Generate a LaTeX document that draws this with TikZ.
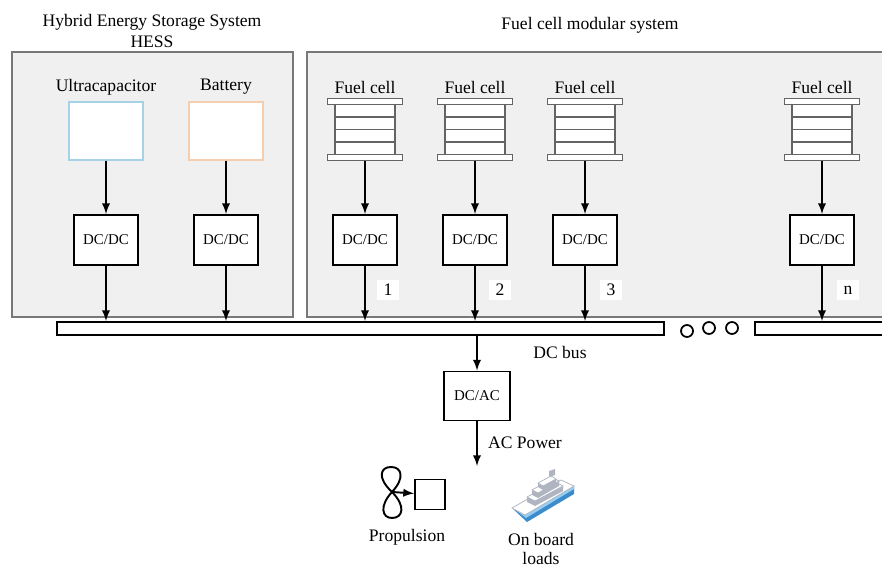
\documentclass[tikz,border=0pt]{standalone}
\usepackage{fontspec}
\setmainfont{Liberation Serif}
\usetikzlibrary{arrows}

\definecolor{panelfill}{RGB}{240,240,240}
\definecolor{panelline}{RGB}{120,120,120}
\definecolor{ucapline}{RGB}{165,210,230}
\definecolor{battline}{RGB}{245,205,175}
\definecolor{stackline}{RGB}{100,100,100}
\definecolor{hullblue}{RGB}{60,140,205}
\definecolor{hulllight}{RGB}{150,205,240}
\definecolor{deckgray}{RGB}{175,180,192}

\tikzset{
plate/.style={shape=rectangle, draw=stackline, fill=white, line width=0.7pt,
    minimum width=1.5cm, minimum height=0.12cm, inner sep=0pt},
cellbody/.style={shape=rectangle, draw=stackline, fill=white, line width=0.7pt,
    minimum width=1.2cm, minimum height=1.02cm, inner sep=0pt}
}

% fuel cell stack: #1 name, #2 x centre
\newcommand{\fcstack}[2]{%
  \node[cellbody] (#1) at (#2,129.5) {};
  \draw[stackline, line width=0.7pt] (#2-30,117) -- (#2+30,117);
  \draw[stackline, line width=0.7pt] (#2-30,129.5) -- (#2+30,129.5);
  \draw[stackline, line width=0.7pt] (#2-30,142) -- (#2+30,142);
  \node[plate] (#1_top) at (#2,101.5) {};
  \node[plate] (#1_bot) at (#2,157.5) {};
  \node[font=\fontsize{10}{12}\selectfont] (#1_lbl) at (#2,87) {Fuel cell};
}

\begin{document}
\begin{tikzpicture}[x=0.02cm, y=-0.02cm]
		\tikzset{conv/.style = {shape=rectangle, draw, line width=1.1pt, fill=white,
		    minimum width=1.28cm, minimum height=1cm, inner sep=0pt,
		    font=\fontsize{8.5}{10}\selectfont}}
		\tikzset{store/.style = {shape=rectangle, draw, line width=0.6pt, fill=white,
		    minimum width=1.48cm, minimum height=1.16cm, inner sep=0pt}}
		\tikzset{flow/.style = {-latex, line width=1.1pt}}
		\tikzset{txt/.style = {font=\fontsize{10}{12}\selectfont, inner sep=1pt}}
		\tikzset{tag/.style = {txt, fill=white, minimum width=0.44cm, minimum height=0.4cm}}
		\tikzset{bus/.style = {shape=rectangle, draw, line width=1.1pt, fill=white,
		    minimum height=0.26cm, inner sep=0pt}}
		\tikzset{dot/.style = {shape=circle, draw, line width=1pt, minimum size=0.24cm, inner sep=0pt}}
		\tikzset{deck/.style = {fill=white, draw=deckgray, line width=0.4pt}}

		\clip (0,0) rectangle (882,567);

		% panels
		\draw[panelline, fill=panelfill, line width=0.8pt] (12,52) rectangle (293,317);
		\draw[panelline, fill=panelfill, line width=0.8pt] (307,52) rectangle (900,317);
		\node[txt, align=center] (T_hess) at (152,31) {Hybrid Energy Storage System\\HESS};
		\node[txt] (T_fc) at (590,25) {Fuel cell modular system};

		% storage side
		\node[txt] (L_u) at (106,87) {Ultracapacitor};
		\node[txt] (L_b) at (226,87) {Battery};
		\node[store, draw=ucapline] (U) at (106,131) {};
		\node[store, draw=battline] (B) at (226,131) {};

		% fuel cells
		\fcstack{FC_1}{365}
		\fcstack{FC_2}{475}
		\fcstack{FC_3}{585}
		\fcstack{FC_n}{822}

		% converters
		\node[conv] (D_1) at (106,240) {DC/DC};
		\node[conv] (D_2) at (226,240) {DC/DC};
		\node[conv] (D_3) at (365,240) {DC/DC};
		\node[conv] (D_4) at (475,240) {DC/DC};
		\node[conv] (D_5) at (585,240) {DC/DC};
		\node[conv] (D_6) at (822,240) {DC/DC};

		\node[tag] (N_1) at (388,290) {1};
		\node[tag] (N_2) at (500,290) {2};
		\node[tag] (N_3) at (611,290) {3};
		\node[tag] (N_n) at (848,290) {n};

		% dc bus
		\node[bus, minimum width=12.14cm] (bus) at (360.5,328.5) {};
		\node[bus, minimum width=3cm] (bus_n) at (830,328.5) {};
		\node[dot] (o_1) at (687,331) {};
		\node[dot] (o_2) at (709,328) {};
		\node[dot] (o_3) at (732,328) {};
		\node[txt] (L_bus) at (560,352) {DC bus};

		\draw[flow] (U) to (D_1);
		\draw[flow] (B) to (D_2);
		\draw[flow] (FC_1_bot) to (D_3);
		\draw[flow] (FC_2_bot) to (D_4);
		\draw[flow] (FC_3_bot) to (D_5);
		\draw[flow] (FC_n_bot) to (D_6);

		\draw[flow] (D_1) to (D_1 |- bus.north);
		\draw[flow] (D_2) to (D_2 |- bus.north);
		\draw[flow] (D_3) to (D_3 |- bus.north);
		\draw[flow] (D_4) to (D_4 |- bus.north);
		\draw[flow] (D_5) to (D_5 |- bus.north);
		\draw[flow] (D_6) to (D_6 |- bus_n.north);

		% inverter
		\node[conv, minimum width=1.32cm, minimum height=0.98cm] (DCAC) at (477,396) {DC/AC};
		\coordinate (ACout) at (477,466);
		\draw[flow] (DCAC |- bus.south) to (DCAC);
		\draw[flow] (DCAC) to (ACout);
		\node[txt] (L_ac) at (525,443) {AC Power};

		% propulsion
		\coordinate (hub) at (392,492);
		\node[shape=rectangle, draw, line width=1.1pt, minimum size=0.6cm, inner sep=0pt] (motor) at (430,494.5) {};
		\draw[line width=1.1pt] (hub) .. controls (377,478) and (380,467) .. (391,467)
		    .. controls (402,467) and (405,478) .. (hub)
		    .. controls (379,506) and (382,518) .. (392,518)
		    .. controls (403,518) and (406,506) .. (hub);
		\draw[flow] (hub) to (motor);
		\node[txt] (L_prop) at (407,537) {Propulsion};

		% ship
		\fill[hullblue] (512,508) -- (525,515) -- (574,486) -- (574,494) -- (527,522) -- cycle;
		\fill[hulllight] (514,509) -- (525,515) -- (574,486) -- (574,489) -- (526,518) -- cycle;
		\filldraw[deck] (512,508) -- (561,480) -- (574,486) -- (525,515) -- cycle;
		% lower tier
		\fill[deckgray] (535,501) -- (563,486) -- (563,491) -- (535,506) -- (527,502) -- (527,497) -- cycle;
		\filldraw[deck] (527,497) -- (555,482) -- (563,486) -- (535,501) -- cycle;
		% middle tier
		\fill[deckgray] (538,493) -- (559,481) -- (559,486) -- (538,498) -- (532,495) -- (532,490) -- cycle;
		\filldraw[deck] (532,490) -- (553,478) -- (559,481) -- (538,493) -- cycle;
		% bridge and funnel
		\fill[deckgray] (543,486) -- (556,479) -- (556,483) -- (543,490) -- (538,487) -- (538,483) -- cycle;
		\filldraw[deck] (538,483) -- (551,476) -- (556,479) -- (543,486) -- cycle;
		\fill[deckgray] (549,477) -- (549,471) -- (555,469) -- (555,475) -- cycle;
		\node[txt, align=center, font=\fontsize{10}{10.5}\selectfont] (L_load) at (541,549) {On board\\loads};

\end{tikzpicture}
\end{document}
